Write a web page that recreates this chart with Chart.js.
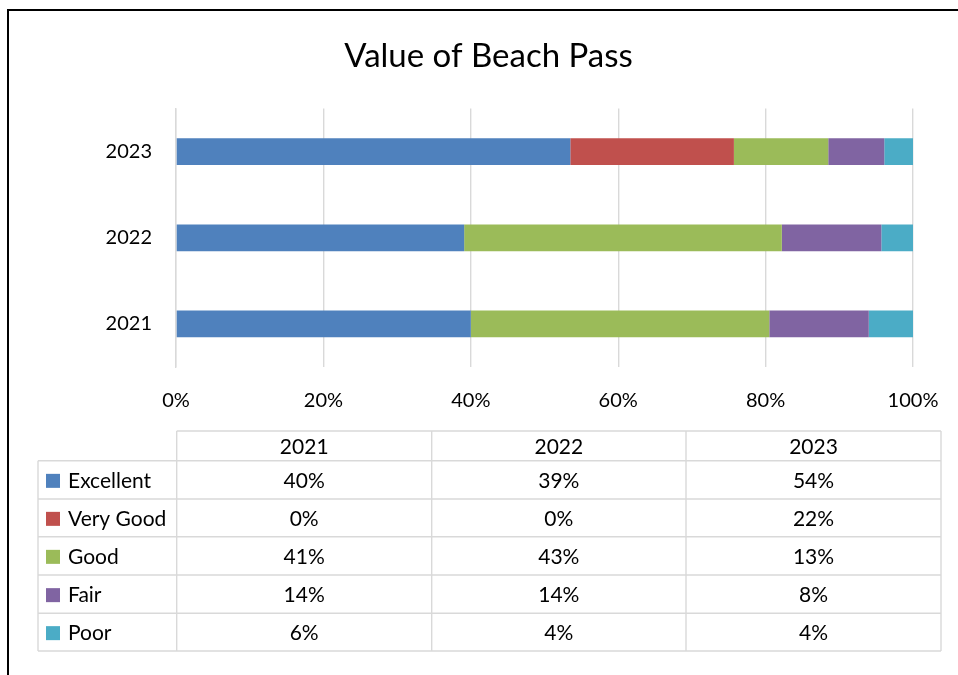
<!DOCTYPE html>
<html>
<head>
<meta charset="utf-8">
<script src="https://cdn.jsdelivr.net/npm/chart.js@4/dist/chart.umd.min.js"></script>
<style>
  html, body { margin: 0; padding: 0; background: #fff; }
  #wrap { position: relative; width: 958px; height: 675px; }
  #frame { position: absolute; left: 7px; top: 9px; width: 960px; height: 680px;
           border-left: 2px solid #000; border-top: 2px solid #000; pointer-events: none; }
  canvas { position: absolute; left: 0; top: 0; }
</style>
</head>
<body>
<div id="wrap">
  <canvas id="myChart" width="958" height="675"></canvas>
  <div id="frame"></div>
</div>
<script>
// share of answers per year (percent, each year sums to 100)
const years = ["2021", "2022", "2023"];
const excellent = [40.0, 39.1, 53.5];
const veryGood = [0, 0, 22.2];
const good = [40.5, 43.1, 12.8];
const fair = [13.5, 13.5, 7.6];
const poor = [6.0, 4.3, 3.9];
const xTicks = [0, 20, 40, 60, 80, 100];

const FONT = "Lato, 'Open Sans', sans-serif";

// data table under the chart
const tableCols = [176.7, 431.7, 686, 941];
const tableRows = [431, 460.7, 499, 536.7, 575, 613.3, 651];
const tableLeft = 38;

const dataTable = {
  id: "dataTable",
  afterDraw(chart) {
    const c = chart.ctx;
    c.save();
    c.strokeStyle = "#d9d9d9";
    c.lineWidth = 1.4;
    c.beginPath();
    c.moveTo(tableCols[0], tableRows[0]);
    c.lineTo(tableCols[3], tableRows[0]);
    for (let i = 1; i < tableRows.length; i++) {
      c.moveTo(tableLeft, tableRows[i]);
      c.lineTo(tableCols[3], tableRows[i]);
    }
    c.moveTo(tableLeft, tableRows[1]);
    c.lineTo(tableLeft, tableRows[6]);
    tableCols.forEach(x => {
      c.moveTo(x, tableRows[0]);
      c.lineTo(x, tableRows[6]);
    });
    c.stroke();

    c.fillStyle = "#000";
    c.font = "21px " + FONT;
    c.textBaseline = "middle";
    c.textAlign = "center";
    years.forEach((y, j) => {
      c.fillText(y, (tableCols[j] + tableCols[j + 1]) / 2, (tableRows[0] + tableRows[1]) / 2 + 1);
    });
    chart.data.datasets.forEach((ds, i) => {
      const mid = (tableRows[i + 1] + tableRows[i + 2]) / 2 + 1;
      c.fillStyle = ds.backgroundColor;
      c.fillRect(46, mid - 7, 14, 14);
      c.fillStyle = "#000";
      c.textAlign = "left";
      c.fillText(ds.label, 68, mid);
      c.textAlign = "center";
      ds.data.forEach((v, j) => {
        c.fillText(Math.round(v) + "%", (tableCols[j] + tableCols[j + 1]) / 2, mid);
      });
    });
    c.restore();
  }
};

const ctx = document.getElementById("myChart");

new Chart(ctx, {
  type: "bar",
  data: {
    labels: years,
    datasets: [
      { label: "Excellent", data: excellent, backgroundColor: "#4f81bd" },
      { label: "Very Good", data: veryGood, backgroundColor: "#c0504d" },
      { label: "Good", data: good, backgroundColor: "#9bbb59" },
      { label: "Fair", data: fair, backgroundColor: "#8064a2" },
      { label: "Poor", data: poor, backgroundColor: "#4bacc6" }
    ]
  },
  options: {
    indexAxis: "y",
    responsive: false,
    animation: false,
    barPercentage: 0.31,
    categoryPercentage: 1,
    layout: { padding: { left: 64, right: 45, top: 0, bottom: 258 } },
    scales: {
      x: {
        stacked: true,
        min: 0,
        max: 100,
        afterBuildTicks: s => { s.ticks = xTicks.map(v => ({ value: v })); },
        afterFit: s => { s.height = 50; s.paddingLeft = 0; s.paddingRight = 0; },
        grid: { color: "#d9d9d9", lineWidth: 1.4, drawTicks: false },
        border: { display: false },
        ticks: {
          padding: 22,
          color: "#000",
          font: { family: FONT, size: 20 },
          callback: v => v + "%"
        }
      },
      y: {
        stacked: true,
        reverse: true,
        afterFit: s => { s.width = 112; },
        grid: { display: false, drawTicks: false },
        border: { display: true, color: "#d9d9d9", width: 1.4 },
        ticks: {
          padding: 24,
          color: "#000",
          font: { family: FONT, size: 20 }
        }
      }
    },
    plugins: {
      legend: { display: false },
      tooltip: { enabled: false },
      title: {
        display: true,
        text: "Value of Beach Pass",
        color: "#000",
        font: { family: FONT, size: 33, weight: "normal" },
        padding: { top: 37, bottom: 32 }
      }
    }
  },
  plugins: [dataTable]
});
</script>
</body>
</html>
